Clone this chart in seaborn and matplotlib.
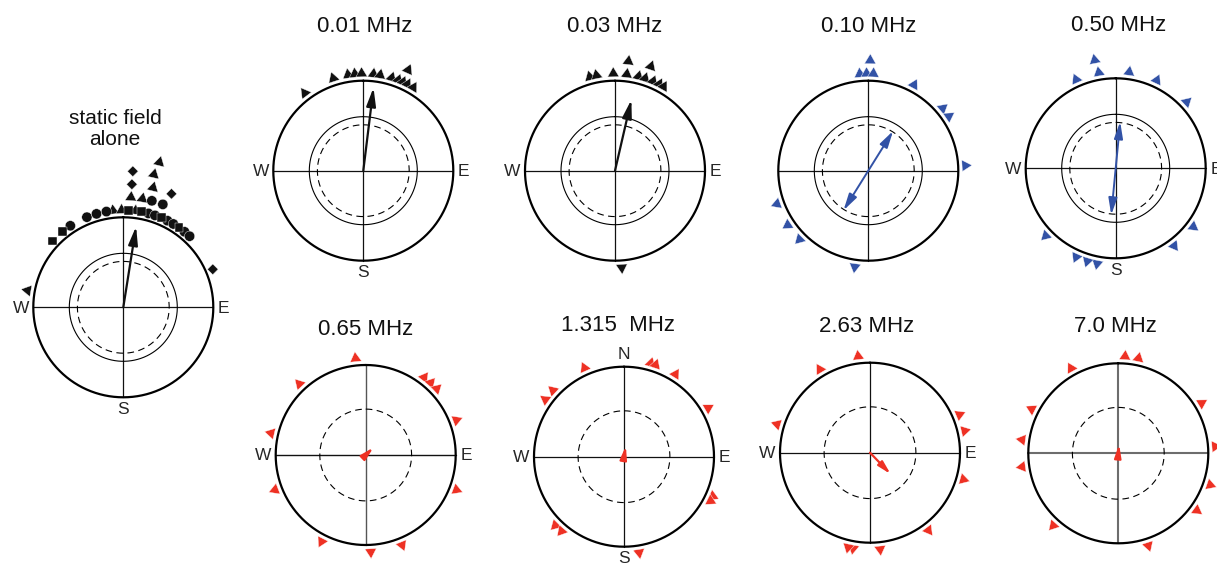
import numpy as np
import pandas as pd
import matplotlib
matplotlib.use("Agg")
import matplotlib.pyplot as plt
import seaborn as sns

# ---------------------------------------------------------------------------
# Individual headings: compass bearings in degrees (clockwise from north),
# listed in the order in which they are stacked outward from the circle.
# ---------------------------------------------------------------------------
static_bearings = [280, 313, 321, 327, 338, 344, 350, 354, 359, 3, 7, 11, 15,
                   19, 23, 27, 31, 35, 39, 43, 67,
                   4, 10, 15, 21, 4, 14, 23, 4, 13, 14]
static_symbols = ["^", "s", "s", "o", "o", "o", "o", "^", "^", "s", "^", "s", "o",
                  "o", "s", "o", "o", "s", "o", "o", "D",
                  "^", "^", "o", "o", "D", "^", "D", "D", "^", "^"]

bear_001 = [323, 342, 351, 355, 359, 6, 10, 17, 21, 24, 27, 31, 24]
bear_003 = [345, 349, 359, 7, 14, 18, 23, 27, 30, 176, 7, 19]
bear_010 = [355, 359, 3, 28, 50, 56, 87, 188, 225, 236, 250, 1]
bear_050 = [336, 350, 8, 25, 47, 127, 143, 191, 197, 204, 226, 349]
bear_065 = [354, 317, 283, 249, 207, 177, 158, 111, 69, 37, 42, 47]
bear_1315 = [336, 313, 306, 16, 19, 32, 60, 114, 117, 225, 220, 171]
bear_263 = [353, 329, 287, 67, 77, 106, 143, 174, 190, 193]
bear_700 = [4, 12, 331, 297, 278, 262, 222, 162, 126, 109, 86, 59]

panel_titles = ["static field\nalone", "0.01 MHz", "0.03 MHz", "0.10 MHz",
                "0.50 MHz", "0.65 MHz", "1.315  MHz", "2.63 MHz", "7.0 MHz"]

# Mean vector of each group (bearing in degrees, length r)
mean_bearing = [9, 7, 13, 32, 5.5, 46, 10, 136, 5]
mean_length = [0.91, 0.93, 0.81, 0.52, 0.52, 0.12, 0.12, 0.33, 0.10]
axial_mean = [False, False, False, True, True, False, False, False, False]

# Rayleigh critical radii drawn inside each circle
crit_solid = 0.60
crit_dashed = 0.51

BLACK, BLUE, RED = "#111111", "#3252a6", "#ee3124"
panel_colors = [BLACK] * 3 + [BLUE] * 2 + [RED] * 4

panel_bearings = [static_bearings, bear_001, bear_003, bear_010, bear_050,
                  bear_065, bear_1315, bear_263, bear_700]
panel_symbols = [static_symbols] + [["^"] * len(b) for b in panel_bearings[1:]]

# ---------------------------------------------------------------------------
# Layout (pixels): centre of each circle, title offset (in radii), compass
# letters drawn, whether the p<0.01 ring is shown, crosshair colour/width.
# ---------------------------------------------------------------------------
W_PX, H_PX, R_PX, HALF = 1217, 565, 90.0, 2.2
layout = [
    (123.3, 307.3, -0.09, 1.98, 15, "WES", True, BLACK, BLACK, 0.9),
    (363.3, 170.7, 0.02, 1.60, 16, "WES", True, BLACK, BLACK, 0.9),
    (615.0, 170.7, 0.00, 1.60, 16, "WE", True, BLACK, BLACK, 0.9),
    (868.3, 170.7, 0.00, 1.60, 16, "", True, BLACK, BLACK, 0.9),
    (1115.7, 168.3, 0.03, 1.59, 16, "WES", True, BLACK, BLACK, 0.9),
    (365.7, 455.0, 0.00, 1.39, 16, "WE", False, BLACK, "#555555", 1.0),
    (624.0, 456.7, -0.07, 1.46, 16, "NWES", False, BLACK, BLACK, 0.9),
    (870.0, 452.7, -0.04, 1.40, 16, "WE", False, BLACK, BLACK, 0.9),
    (1118.3, 453.3, -0.03, 1.41, 16, "", False, "#6d6d6d", "#6d6d6d", 1.5),
]

R0, STEP, SEP = 1.08, 0.145, 3.0
SYMBOL_SIZE = {"^": 92, "o": 55, "s": 40, "D": 30}

sns.set_style("white")
plt.rcParams["font.family"] = ["Liberation Sans", "DejaVu Sans"]


def ang_dist(a, b):
    d = abs(a - b) % 360
    return min(d, 360 - d)


def stack_levels(bearings):
    placed, levels = [], []
    for a in bearings:
        lvl = 0
        while any(lv == lvl and ang_dist(a, b) < SEP for b, lv in placed):
            lvl += 1
        placed.append((a, lvl))
        levels.append(lvl)
    return levels


def ring(ax, radius, color, lw, ls="-"):
    t = np.linspace(0, 2 * np.pi, 721)
    sns.lineplot(x=radius * np.sin(t), y=radius * np.cos(t), sort=False,
                 estimator=None, color=color, linewidth=lw, linestyle=ls,
                 ax=ax, legend=False)


fig = plt.figure(figsize=(W_PX / 100, H_PX / 100), dpi=100)

for i in range(len(panel_titles)):
    cx, cy, tdx, tdy, tsize, letters, solid, hcol, vcol, clw = layout[i]
    ext = HALF * R_PX
    ax = fig.add_axes([(cx - ext) / W_PX, (H_PX - cy - ext) / H_PX,
                       2 * ext / W_PX, 2 * ext / H_PX])
    ax.set_xlim(-HALF, HALF)
    ax.set_ylim(-HALF, HALF)
    ax.axis("off")
    col = panel_colors[i]

    # crosshair
    sns.lineplot(x=[-1, 1], y=[0, 0], color=hcol, linewidth=clw, ax=ax,
                 estimator=None, sort=False)
    sns.lineplot(x=[0, 0], y=[-1, 1], color=vcol, linewidth=clw, ax=ax,
                 estimator=None, sort=False)
    # rings
    ring(ax, 1.0, "black", 1.6)
    if solid:
        ring(ax, crit_solid, "black", 0.8)
    ring(ax, crit_dashed, "black", 0.8, ls=(0, (6, 4)))

    # individual headings, stacked outward
    bearings = np.asarray(panel_bearings[i], dtype=float)
    levels = np.asarray(stack_levels(panel_bearings[i]))
    rad = R0 + STEP * levels
    th = np.deg2rad(bearings)
    df = pd.DataFrame({"x": rad * np.sin(th), "y": rad * np.cos(th),
                       "bearing": bearings, "sym": panel_symbols[i]})
    df["key"] = [f"m{k}" for k in range(len(df))]
    for sym, sub in df.groupby("sym"):
        if sym == "^":
            mk = {k: (3, 0, -b) for k, b in zip(sub["key"], sub["bearing"])}
        else:
            mk = {k: sym for k in sub["key"]}
        sns.scatterplot(data=sub, x="x", y="y", style="key", markers=mk,
                        s=SYMBOL_SIZE[sym], color=col, edgecolor="white",
                        linewidth=0.3, legend=False, ax=ax, zorder=5,
                        clip_on=False)

    # mean vector
    mb = np.deg2rad(mean_bearing[i])
    tip = (mean_length[i] * np.sin(mb), mean_length[i] * np.cos(mb))
    scale = 20 if i < 5 else 14
    if axial_mean[i]:
        ax.annotate("", xy=tip, xytext=(-tip[0], -tip[1]),
                    arrowprops=dict(arrowstyle="<|-|>,head_length=0.5,head_width=0.13",
                                    color=col, lw=1.4, shrinkA=0, shrinkB=0,
                                    mutation_scale=scale), zorder=6)
    else:
        ax.annotate("", xy=tip, xytext=(0, 0),
                    arrowprops=dict(arrowstyle="-|>,head_length=0.55,head_width=0.14",
                                    color=col, lw=1.6, shrinkA=0, shrinkB=0,
                                    mutation_scale=scale), zorder=6)

    # titles and compass letters
    ax.text(tdx, tdy, panel_titles[i], ha="center", va="center",
            fontsize=tsize, linespacing=1.1, color="#111111")
    if "W" in letters:
        ax.text(-1.05, -0.01, "W", ha="right", va="center", fontsize=12.5)
    if "E" in letters:
        ax.text(1.05, -0.01, "E", ha="left", va="center", fontsize=12.5)
    if "S" in letters:
        ax.text(0, -1.05, "S", ha="center", va="top", fontsize=12.5)
    if "N" in letters:
        ax.text(0, 1.05, "N", ha="center", va="bottom", fontsize=12.5)

fig.savefig("out.png", dpi=100, facecolor="white")
